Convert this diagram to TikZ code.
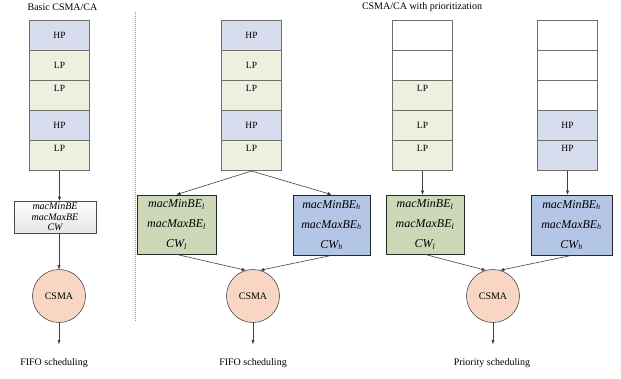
\documentclass[tikz,border=0pt]{standalone}
\usepackage{fontspec}
\setmainfont{Liberation Serif}
\usetikzlibrary{arrows.meta,positioning,calc}
\definecolor{hpfill}{HTML}{D7DDEF}
\definecolor{lpfill}{HTML}{ECF0DF}
\definecolor{gbox}{HTML}{CDD8B8}
\definecolor{bbox}{HTML}{B4C6E6}
\definecolor{peach}{HTML}{F8D6C3}
\definecolor{edge}{HTML}{6E6E6E}
\definecolor{conn}{HTML}{404040}
\tikzset{
  cell/.style={draw=edge, line width=1pt, minimum width=60pt, minimum height=30pt, inner sep=0pt, font=\fontsize{9.5}{10}\selectfont},
  hp/.style={cell, fill=hpfill},
  lp/.style={cell, fill=lpfill},
  emptycell/.style={cell, fill=white},
  parbox/.style={draw=black!85, line width=0.8pt, inner sep=0pt, align=center, font=\fontsize{12}{20}\selectfont\itshape},
  csma/.style={circle, draw=black!70, line width=0.6pt, fill=peach, minimum size=53pt, inner sep=0pt, font=\fontsize{10}{12}\selectfont},
  arr/.style={draw=conn, line width=0.6pt, -{Triangle[length=4pt,width=3pt]}},
  lbl/.style={font=\fontsize{10}{12}\selectfont, inner sep=0pt},
}
\newcommand{\up}[1]{\raisebox{7pt}[\height][\depth]{#1}}
\begin{document}
\begin{tikzpicture}[x=1pt,y=-1pt]
\useasboundingbox (0,0) rectangle (621,378);
% titles
\node[lbl] (t1) at (62.5,7) {Basic CSMA/CA};
\node[lbl] (t2) at (422,7) {CSMA/CA with prioritization};
% divider
\draw[draw=black!40, line width=0.8pt, dash pattern=on 1pt off 1pt] (135,12) -- (135,322);
% stack 1
\node[hp] (a1) at (59.5,35) {HP};
\node[lp] (a2) at (59.5,65) {LP};
\node[lp] (a3) at (59.5,95) {\up{LP}};
\node[hp] (a4) at (59.5,125) {HP};
\node[lp] (a5) at (59.5,155.5) {\up{LP}};
% stack 2
\node[hp] (b1) at (251.5,35) {HP};
\node[lp] (b2) at (251.5,65) {LP};
\node[lp] (b3) at (251.5,95) {\up{LP}};
\node[hp] (b4) at (251.5,125) {HP};
\node[lp] (b5) at (251.5,155.5) {\up{LP}};
% stack 3
\node[emptycell] (c1) at (422.5,35) {};
\node[emptycell] (c2) at (422.5,65) {};
\node[lp] (c3) at (422.5,95) {\up{LP}};
\node[lp] (c4) at (422.5,125) {LP};
\node[lp] (c5) at (422.5,155.5) {\up{LP}};
% stack 4
\node[emptycell] (d1) at (567.5,35) {};
\node[emptycell] (d2) at (567.5,65) {};
\node[emptycell] (d3) at (567.5,95) {};
\node[hp] (d4) at (567.5,125) {HP};
\node[hp] (d5) at (567.5,155.5) {\up{HP}};
% basic parameter box
\node[draw=black!70, line width=0.6pt, top color=white, bottom color=black!10, minimum width=82pt, minimum height=32pt, inner sep=0pt, align=center, font=\fontsize{10}{10.5}\selectfont\itshape] (pa) at (55,217) {macMinBE\\macMaxBE\\CW};
% prioritized parameter boxes
\node[parbox, fill=gbox, minimum width=79pt, minimum height=59pt] (g2) at (176.5,224.5) {macMinBE\textsubscript{\textit{l}}\\macMaxBE\textsubscript{\textit{l}}\\CW\textsubscript{\textit{l}}};
\node[parbox, fill=bbox, minimum width=77pt, minimum height=60pt] (h2) at (331.5,225) {macMinBE\textsubscript{\textit{h}}\\macMaxBE\textsubscript{\textit{h}}\\CW\textsubscript{\textit{h}}};
\node[parbox, fill=gbox, minimum width=78pt, minimum height=59pt] (g3) at (425,224.5) {macMinBE\textsubscript{\textit{l}}\\macMaxBE\textsubscript{\textit{l}}\\CW\textsubscript{\textit{l}}};
\node[parbox, fill=bbox, minimum width=81pt, minimum height=60pt] (h3) at (571.5,225) {macMinBE\textsubscript{\textit{h}}\\macMaxBE\textsubscript{\textit{h}}\\CW\textsubscript{\textit{h}}};
% CSMA circles
\node[csma] (m1) at (59,296) {CSMA};
\node[csma] (m2) at (253,296) {CSMA};
\node[csma] (m3) at (493,296) {CSMA};
% outputs
\coordinate (o1) at (59,344);
\coordinate (o2) at (253,344);
\coordinate (o3) at (493,344);
\node[lbl] (f1) at (54,363) {FIFO scheduling};
\node[lbl] (f2) at (253,363) {FIFO scheduling};
\node[lbl] (f3) at (492,363) {Priority scheduling};
% connectors
\draw[arr] (a5.south) -- (a5.south |- pa.north);
\draw[arr] (pa.south -| m1.north) -- (m1.north);
\draw[arr] (m1.south) -- (o1);
\draw[arr] (b5.south) -- (g2.north);
\draw[arr] (b5.south) -- (h2.north);
\draw[arr] (g2.south) -- (m2.106);
\draw[arr] (h2.south) -- (m2.74);
\draw[arr] (m2.south) -- (o2);
\draw[arr] (c5.south) -- (c5.south |- g3.north);
\draw[arr] (d5.south) -- (d5.south |- h3.north);
\draw[arr] (g3.south) -- (m3.106);
\draw[arr] (h3.south) -- (m3.74);
\draw[arr] (m3.south) -- (o3);
\end{tikzpicture}
\end{document}
